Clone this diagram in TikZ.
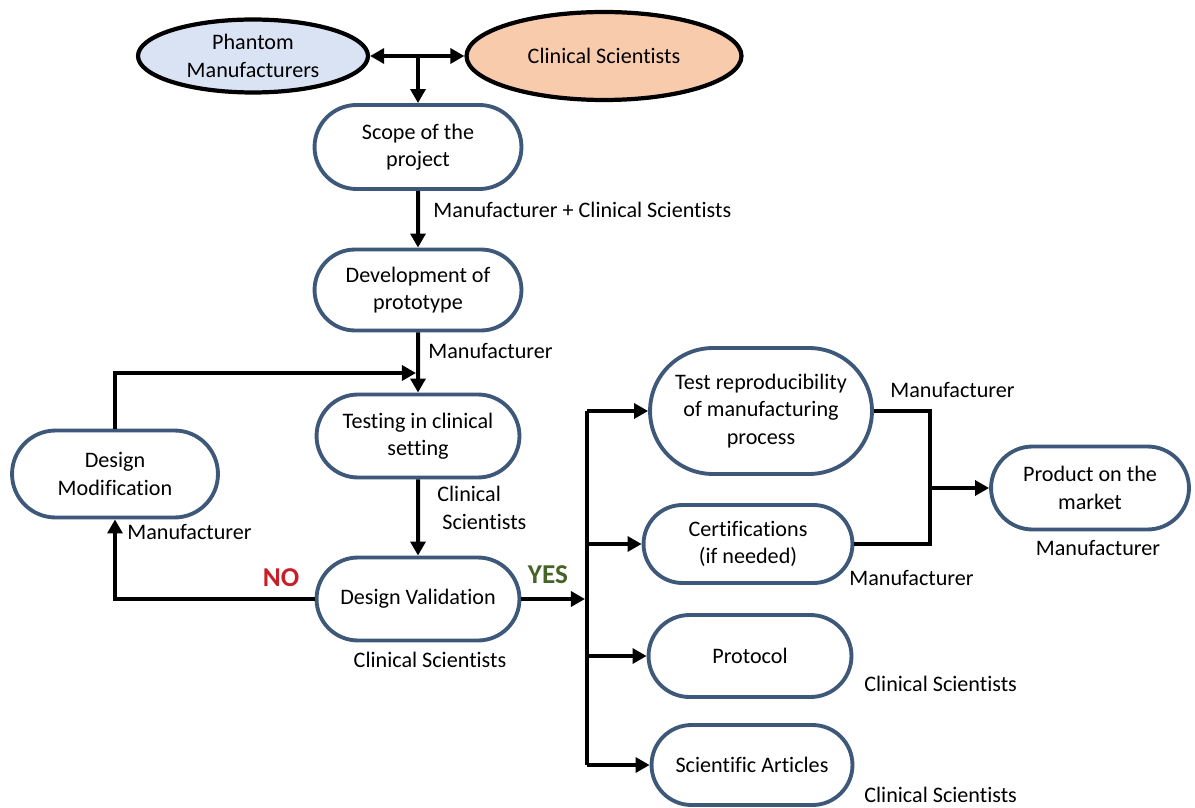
\documentclass[tikz,border=0pt]{standalone}
\usepackage{fontspec}
\setmainfont{Carlito}[Ligatures=NoCommon]
\usetikzlibrary{arrows.meta,shapes.misc,shapes.geometric}
\definecolor{pillblue}{RGB}{62,88,122}
\definecolor{phantomfill}{RGB}{218,227,243}
\definecolor{clinicfill}{RGB}{248,203,173}
\definecolor{nored}{RGB}{200,30,40}
\definecolor{yesgreen}{RGB}{70,100,40}
\tikzset{
  pill/.style={rounded rectangle, draw=pillblue, line width=2.2pt, fill=white,
    align=center, inner sep=2pt, minimum width=4.2cm, minimum height=1.66cm},
  party/.style={ellipse, draw=black, line width=2.4pt, align=center, inner sep=0pt},
  link/.style={line width=2.3pt},
  flow/.style={link, -{Triangle[length=8pt,width=8.5pt]}},
  twoway/.style={link, {Triangle[length=8pt,width=8.5pt]}-{Triangle[length=8pt,width=8.5pt]}},
  note/.style={align=left, inner sep=0pt},
  verdict/.style={inner sep=0pt, font=\fontsize{15.5}{18}\selectfont\bfseries},
}
\begin{document}
\begin{tikzpicture}[x=0.02cm, y=-0.02cm, font=\fontsize{12.6}{15.5}\selectfont]
    \useasboundingbox (0,0) rectangle (1195,807);
    % partners
    \node[party, fill=phantomfill, minimum width=4.6cm, minimum height=1.46cm] (phantom) at (253,56) {Phantom\\Manufacturers};
    \node[party, fill=clinicfill, minimum width=5.5cm, minimum height=1.76cm] (clinic) at (604,56) {Clinical Scientists};
    % main column
    \node[pill, minimum width=4.28cm, minimum height=1.68cm] (scope) at (418,147) {Scope of the\\project};
    \node[pill, minimum width=4.28cm, minimum height=1.62cm] (develop) at (418,290) {Development of\\prototype};
    \node[pill] (testing) at (418,436) {Testing in clinical\\setting};
    \node[pill] (validate) at (418,599) {Design Validation};
    \node[pill, minimum width=4.26cm, minimum height=1.74cm] (modify) at (115,474) {Design\\Modification};
    % outcomes
    \node[pill, minimum width=4.58cm, minimum height=2.52cm] (repro) at (761,411) {Test reproducibility\\of manufacturing\\process};
    \node[pill, minimum width=4.32cm, minimum height=1.56cm] (certify) at (748,544) {Certifications\\(if needed)};
    \node[pill, minimum width=4.1cm] (product) at (1090,488) {Product on the\\market};
    \node[pill, minimum height=1.64cm] (protocol) at (750,656) {Protocol};
    \node[pill, minimum width=4.16cm, minimum height=1.6cm] (articles) at (752,765) {Scientific Articles};
    % junctions
    \coordinate (split) at (418,56);
    \coordinate (merge) at (416,373);
    \coordinate (busN) at (587,411);
    \coordinate (busS) at (587,765);
    \coordinate (yes) at (585,599);
    \coordinate (join) at (930,488);
    % connectors
    \draw[twoway] (phantom.east) -- (clinic.west);
    \draw[flow] (split) -- (scope.north);
    \draw[flow] (scope) -- (develop);
    \draw[flow] (develop) -- (testing);
    \draw[flow] (testing) -- (validate);
    \draw[flow] (modify.north) |- (merge);
    \draw[flow] (validate.west) -| (modify.south);
    \draw[flow] (validate.east) -- (yes);
    \draw[link] (busN) -- (busS);
    \draw[flow] (busN) -- (repro.west);
    \draw[flow] (certify.west -| busN) -- (certify.west);
    \draw[flow] (protocol.west -| busN) -- (protocol.west);
    \draw[flow] (busS) -- (articles.west);
    \draw[link] (repro.east) -| (join) |- (certify.east);
    \draw[flow] (join) -- (product.west);
    % who does what
    \node[note, anchor=west] (lscope) at (433,210) {Manufacturer + Clinical Scientists};
    \node[note, anchor=west] (ldevelop) at (428,351) {Manufacturer};
    \node[note, anchor=west] (ltesting) at (437,508) {Clinical\\\ Scientists};
    \node[note, anchor=west] (lmodify) at (127,532) {Manufacturer};
    \node[note] (lvalidate) at (430,660) {Clinical Scientists};
    \node[note, anchor=west] (lrepro) at (890,390) {Manufacturer};
    \node[note, anchor=west] (lcertify) at (849,578) {Manufacturer};
    \node[note] (lproduct) at (1098,548) {Manufacturer};
    \node[note, anchor=west] (lprotocol) at (864,684) {Clinical Scientists};
    \node[note, anchor=west] (larticles) at (864,795) {Clinical Scientists};
    \node[verdict, text=nored] (no) at (281,578) {NO};
    \node[verdict, text=yesgreen] (yeslabel) at (548,575) {YES};
\end{tikzpicture}
\end{document}
